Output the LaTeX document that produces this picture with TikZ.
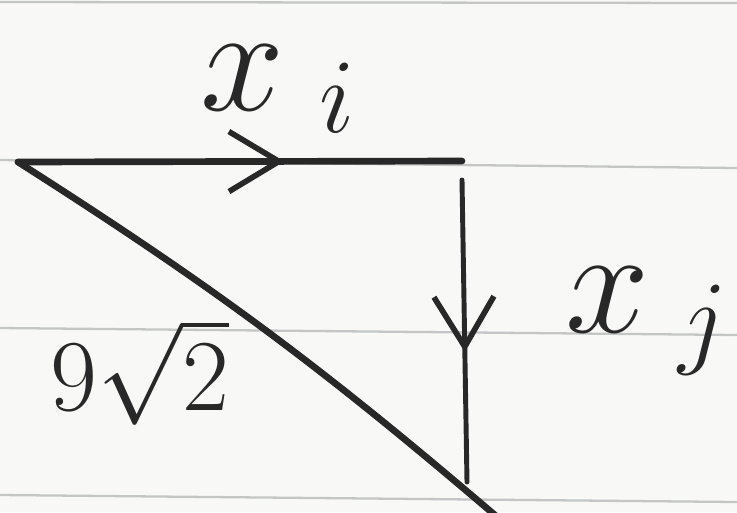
\RequirePackage{fix-cm}
\documentclass[tikz,border=0pt]{standalone}
\usepackage{amsmath}
\usetikzlibrary{arrows.meta,decorations.markings}
\definecolor{paper}{RGB}{248,248,247}
\definecolor{ruled}{RGB}{196,198,198}
\definecolor{ink}{RGB}{40,40,40}

\begin{document}
\begin{tikzpicture}[
  x=0.02cm, y=-0.02cm,
  ruleline/.style={ruled, line width=1.3pt},
  pen/.style={ink, line width=3.8pt, line cap=round},
  thinpen/.style={ink, line width=2.8pt, line cap=round},
  midarr/.style={postaction={decorate}, decoration={markings,
      mark=at position #1 with {\arrow{Straight Barb[length=1cm, width=1.2cm, line width=3.2pt]}}}},
  lbl/.style={ink, inner sep=0pt},
  biglbl/.style={lbl, font=\fontsize{86}{96}\selectfont},
  midlbl/.style={lbl, font=\fontsize{58}{68}\selectfont}
]
\fill[paper] (0,0) rectangle (737,512);
\useasboundingbox (0,0) rectangle (737,512);

% ruled paper
\draw[ruleline] (0,2) -- (737,3);
\draw[ruleline] (0,160) -- (737,168);
\draw[ruleline] (0,328) -- (737,335);
\draw[ruleline] (0,495) -- (737,502);

\coordinate (A) at (18,162);
\coordinate (B) at (462,161);
\coordinate (Ctop) at (462,180);
\coordinate (Cbot) at (467,482);
\coordinate (E) at (496,516);

\begin{scope}
\clip (0,0) rectangle (737,512);
\draw[pen, midarr=0.6] (A) -- (B);
\draw[thinpen, midarr=0.57] (Ctop) -- (Cbot);
\draw[pen] (A) to[bend left=4] (E);
\end{scope}

\node[biglbl, anchor=base west] (xi) at (200,110) {$x_{\mkern6mu i}$};
\node[biglbl, anchor=base west] (xj) at (565,332) {$x_{\mkern5mu j}$};
\node[midlbl, anchor=base west] (hyp) at (50,410) {$9\sqrt{2}$};
\end{tikzpicture}
\end{document}
